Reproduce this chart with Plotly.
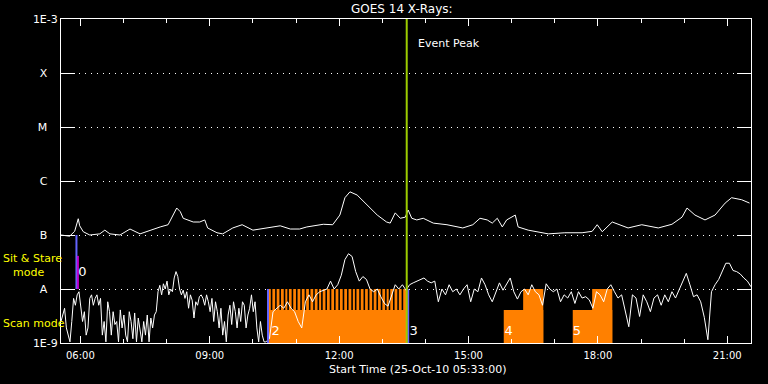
import pandas as pd
import plotly.graph_objects as go

DAY = "2010-10-25 "

# ---------------- data ----------------
# GOES 14 long channel (1-8 A), W/m^2
long_times = ["05:33", "05:45", "05:52", "05:57", "05:59", "06:04", "06:13", "06:27", "06:34", "06:41",
              "06:55", "07:09", "07:23", "07:37", "07:51", "08:02", "08:09", "08:14", "08:19", "08:23",
              "08:37", "08:46", "08:53", "08:57", "09:10", "09:18", "09:32", "09:45", "10:00", "10:20",
              "10:38", "10:52", "11:05", "11:15", "11:38", "11:51", "12:01", "12:08", "12:15", "12:25",
              "12:39", "12:53", "13:06", "13:11", "13:18", "13:25", "13:32", "13:36", "13:41", "13:48",
              "13:57", "14:11", "14:30", "14:52", "15:06", "15:16", "15:26", "15:33", "15:40", "15:47",
              "15:53", "16:05", "16:09", "16:23", "16:51", "17:14", "17:38", "17:52", "17:59", "18:06",
              "18:20", "18:33", "18:42", "19:01", "19:24", "19:43", "19:57", "20:04", "20:15", "20:29",
              "20:43", "20:57", "21:06", "21:20", "21:31"]
long_flux = [1.0e-7, 9.5e-8, 1.17e-7, 2.0e-7, 1.48e-7, 1.15e-7, 1.0e-7, 1.05e-7, 1.23e-7, 1.05e-7,
             1.0e-7, 1.29e-7, 1.05e-7, 1.23e-7, 1.41e-7, 1.55e-7, 2.34e-7, 3.16e-7, 2.7e-7, 2.04e-7,
             1.74e-7, 1.74e-7, 1.9e-7, 1.35e-7, 1.1e-7, 1.05e-7, 1.35e-7, 1.55e-7, 1.23e-7, 1.35e-7,
             1.48e-7, 1.29e-7, 1.29e-7, 1.41e-7, 1.58e-7, 1.55e-7, 2.34e-7, 4.9e-7, 6.3e-7, 5.5e-7,
             3.6e-7, 2.34e-7, 1.74e-7, 1.66e-7, 2.57e-7, 2.04e-7, 2.14e-7, 2.9e-7, 2.04e-7, 1.9e-7,
             2.04e-7, 1.66e-7, 1.55e-7, 1.35e-7, 1.55e-7, 2.04e-7, 1.9e-7, 1.66e-7, 2.04e-7, 1.41e-7,
             1.9e-7, 2.34e-7, 1.41e-7, 1.23e-7, 1.05e-7, 1.1e-7, 1.1e-7, 1.17e-7, 1.55e-7, 1.15e-7,
             1.74e-7, 1.48e-7, 1.35e-7, 1.55e-7, 1.35e-7, 1.58e-7, 2.14e-7, 3.16e-7, 2.34e-7, 1.9e-7,
             2.34e-7, 3.9e-7, 4.9e-7, 4.5e-7, 3.9e-7]

# GOES 14 short channel (0.5-4 A), W/m^2
# early part: every 2.5 minutes from 05:33 to 10:18
short_early_start = DAY + "05:33"
short_early_flux = [2.5e-9, 3.3e-9, 4.4e-9, 1.9e-9, 1.4e-9, 1.05e-9, 2.5e-9, 6.7e-9, 5.0e-9, 7.8e-9,
                    8.9e-9, 4.4e-9, 2.5e-9, 3.8e-9, 1.4e-9, 1.9e-9, 6.7e-9, 7.8e-9, 5.0e-9, 6.7e-9,
                    7.8e-9, 5.0e-9, 6.7e-9, 1.4e-9, 2.5e-9, 1.05e-9, 5.8e-9, 3.8e-9, 1.4e-9, 3.8e-9,
                    2.2e-9, 2.5e-9, 1.05e-9, 4.1e-9, 1.9e-9, 3.3e-9, 1.4e-9, 1.05e-9, 3.8e-9, 2.5e-9,
                    1.2e-9, 3.6e-9, 1.05e-9, 2.9e-9, 1.9e-9, 1.05e-9, 2.5e-9, 1.4e-9, 3.3e-9, 1.05e-9,
                    2.9e-9, 1.9e-9, 3.3e-9, 3.8e-9, 8.9e-9, 1.17e-8, 7.8e-9, 1.25e-8, 1.0e-8, 1.4e-8,
                    7.8e-9, 1.0e-8, 8.9e-9, 1.6e-8, 2.1e-8, 1.7e-8, 1.0e-8, 7.8e-9, 9.5e-9, 6.7e-9,
                    8.9e-9, 4.4e-9, 7.8e-9, 6.2e-9, 2.9e-9, 5.8e-9, 5.0e-9, 7.2e-9, 7.8e-9, 6.7e-9,
                    5.0e-9, 7.8e-9, 5.8e-9, 3.8e-9, 6.7e-9, 2.5e-9, 5.8e-9, 3.8e-9, 1.9e-9, 4.4e-9,
                    1.4e-9, 2.5e-9, 1.05e-9, 3.3e-9, 5.0e-9, 2.2e-9, 5.8e-9, 3.8e-9, 1.9e-9, 4.4e-9,
                    2.5e-9, 5.8e-9, 5.0e-9, 1.9e-9, 3.3e-9, 4.4e-9, 7.8e-9, 3.8e-9, 5.8e-9, 1.9e-9,
                    1.05e-9, 2.5e-9, 1.4e-9, 1.05e-9, 1.05e-9]
# late part: every 5 minutes from 10:23 to 21:33
short_late_start = DAY + "10:23"
short_late_flux = [1.2e-9, 3.8e-9,
                   4.4e-9, 5.0e-9, 4.4e-9, 5.8e-9, 4.4e-9, 3.8e-9, 2.5e-9, 1.9e-9, 5.8e-9, 7.8e-9,
                   5.8e-9, 7.8e-9, 8.9e-9, 9.5e-9, 1.0e-8, 1.4e-8, 1.0e-8, 1.2e-8, 1.8e-8, 3.5e-8,
                   4.5e-8, 4.0e-8, 2.1e-8, 1.4e-8, 1.7e-8, 1.5e-8, 1.0e-8, 8.9e-9, 1.0e-8, 7.2e-9,
                   5.4e-9, 4.8e-9, 7.8e-9, 1.2e-8, 1.0e-8, 1.2e-8, 9.5e-9, 1.2e-8, 1.3e-8, 1.4e-8,
                   1.5e-8, 1.6e-8, 1.4e-8, 1.3e-8, 1.4e-8, 5.8e-9, 1.0e-8, 7.8e-9, 1.2e-8, 8.9e-9,
                   1.0e-8, 7.8e-9, 1.0e-8, 1.2e-8, 5.8e-9, 1.0e-8, 8.9e-9, 1.6e-8, 1.2e-8, 7.8e-9,
                   5.8e-9, 8.9e-9, 1.3e-8, 9.5e-9, 1.2e-8, 1.6e-8, 8.9e-9, 6.5e-9, 8.9e-9, 1.0e-8,
                   7.8e-9, 1.2e-8, 8.9e-9, 7.8e-9, 5.0e-9, 1.25e-8, 1.0e-8, 8.9e-9, 1.0e-8, 5.8e-9,
                   7.8e-9, 6.8e-9, 8.9e-9, 5.4e-9, 8.9e-9, 6.8e-9, 7.2e-9, 6.3e-9, 4.4e-9, 8.9e-9,
                   7.8e-9, 5.8e-9, 1.0e-8, 1.2e-8, 8.9e-9, 6.8e-9, 7.8e-9, 3.8e-9, 2.0e-9, 7.8e-9,
                   6.8e-9, 3.1e-9, 7.8e-9, 5.8e-9, 3.8e-9, 6.8e-9, 7.8e-9, 5.0e-9, 7.8e-9, 5.8e-9,
                   8.9e-9, 6.8e-9, 9.5e-9, 1.4e-8, 1.95e-8, 1.2e-8, 7.2e-9, 7.8e-9, 5.8e-9, 3.0e-9,
                   1.15e-9, 8.9e-9, 1.2e-8, 1.5e-8, 2.2e-8, 3.0e-8, 3.0e-8, 2.2e-8, 2.1e-8, 1.9e-8,
                   1.6e-8, 1.4e-8, 1.1e-8]
short_times = list(pd.date_range(short_early_start, periods=len(short_early_flux), freq="150s")) + \
    list(pd.date_range(short_late_start, periods=len(short_late_flux), freq="5min"))
short_flux = short_early_flux + short_late_flux

# Scan-mode observation blocks (start, end)
scan_low_blocks = [("10:22", "13:34"), ("15:49", "16:44"), ("17:25", "18:20")]
scan_high_blocks = [("10:22", "13:34"), ("16:16", "16:44"), ("17:52", "18:20")]
scan_gap_centres = ["10:26", "10:32", "10:38", "10:44", "10:49", "10:55", "11:01", "11:07",
                    "11:13", "11:19", "11:25", "11:31", "11:36", "11:42", "11:48", "11:54",
                    "12:00", "12:06", "12:12", "12:18", "12:23", "12:29", "12:35", "12:41",
                    "12:47", "12:53", "12:59", "13:05", "13:10", "13:16", "13:22", "13:28"]
scan_floor, scan_low_top, scan_high_top = 1e-9, 4.1e-9, 1e-8

# Pointing change markers
blue_times = ["05:54:30", "10:21", "13:36"]
blue_lo = [1e-8, 1e-9, 1e-9]
blue_hi = [1e-7, 1e-8, 1e-8]
magenta_time = "05:56:30"
magenta_lo, magenta_hi = 1e-8, 4.1e-8
event_peak_time = "13:34"

point_labels = ["0", "2", "3", "4", "5"]
point_label_times = ["05:57", "10:26", "13:38", "15:50", "17:25"]
point_label_flux = [2.0e-8, 1.6e-9, 1.6e-9, 1.6e-9, 1.6e-9]

y_tickvals = [1e-9, 1e-8, 1e-7, 1e-6, 1e-5, 1e-4, 1e-3]
y_ticktext = ["1E-9", "A", "B", "C", "M", "X", "1E-3"]

x_start, x_end = DAY + "05:33", DAY + "21:33"

# ---------------- figure ----------------
FONT = "DejaVu Sans"
ORANGE = "#ff8000"
BLUE = "#6464ff"
MAGENTA = "#c000d0"
GREEN = "#9ccc00"


def ts(t):
    return pd.Timestamp(DAY + t)


def rects(blocks, lo, hi):
    xs, ys = [], []
    for s, e in blocks:
        xs += [ts(s), ts(e), ts(e), ts(s), ts(s), None]
        ys += [lo, lo, hi, hi, lo, None]
    return xs, ys


fig = go.Figure()

x, y = rects(scan_low_blocks, scan_floor, scan_low_top)
fig.add_trace(go.Scatter(x=x, y=y, fill="toself", fillcolor=ORANGE, mode="lines",
                         line=dict(width=0, color=ORANGE), hoverinfo="skip"))
x, y = rects(scan_high_blocks, scan_floor, scan_high_top)
fig.add_trace(go.Scatter(x=x, y=y, fill="toself", fillcolor=ORANGE, mode="lines",
                         line=dict(width=0, color=ORANGE), hoverinfo="skip"))
half = pd.Timedelta(seconds=66)
gx, gy = [], []
for c in scan_gap_centres:
    t = ts(c)
    gx += [t - half, t + half, t + half, t - half, t - half, None]
    gy += [scan_low_top, scan_low_top, scan_high_top, scan_high_top, scan_low_top, None]
fig.add_trace(go.Scatter(x=gx, y=gy, fill="toself", fillcolor="black", mode="lines",
                         line=dict(width=0, color="black"), hoverinfo="skip"))

fig.add_trace(go.Scatter(x=[ts(t) for t in long_times], y=long_flux, mode="lines",
                         line=dict(color="white", width=1)))
fig.add_trace(go.Scatter(x=short_times, y=short_flux, mode="lines",
                         line=dict(color="white", width=1)))

for t, lo, hi in zip(blue_times, blue_lo, blue_hi):
    fig.add_trace(go.Scatter(x=[ts(t), ts(t)], y=[lo, hi], mode="lines",
                             line=dict(color=BLUE, width=2)))
fig.add_trace(go.Scatter(x=[ts(magenta_time)] * 2, y=[magenta_lo, magenta_hi], mode="lines",
                         line=dict(color=MAGENTA, width=2)))
fig.add_trace(go.Scatter(x=[ts(event_peak_time)] * 2, y=[1e-9, 1e-3], mode="lines",
                         line=dict(color=GREEN, width=2)))

fig.add_trace(go.Scatter(x=[ts(t) for t in point_label_times], y=point_label_flux, mode="text",
                         text=point_labels, textposition="middle right",
                         textfont=dict(family=FONT, size=13, color="white")))

fig.add_annotation(x=ts(event_peak_time), xref="x", y=(343 - 43) / 324, yref="paper",
                   text="Event Peak", showarrow=False, xanchor="left", yanchor="middle", xshift=9,
                   font=dict(family=FONT, size=11, color="white"))
fig.add_annotation(x=(402 - 61) / 690, xref="paper", y=(343 - 9) / 324, yref="paper",
                   text="GOES 14 X-Rays:", showarrow=False, xanchor="center", yanchor="middle",
                   font=dict(family=FONT, size=12, color="white"))
fig.add_annotation(x=(418 - 61) / 690, xref="paper", y=(343 - 369) / 324, yref="paper",
                   text="Start Time (25-Oct-10 05:33:00)", showarrow=False, xanchor="center",
                   yanchor="middle", font=dict(family=FONT, size=11, color="white"))
fig.add_annotation(x=(1 - 61) / 690, xref="paper", y=(343 - 258) / 324, yref="paper",
                   text="Sit & Stare", showarrow=False, xanchor="left", yanchor="middle",
                   font=dict(family=FONT, size=11, color="yellow"))
fig.add_annotation(x=(11 - 61) / 690, xref="paper", y=(343 - 272) / 324, yref="paper",
                   text="mode", showarrow=False, xanchor="left", yanchor="middle",
                   font=dict(family=FONT, size=11, color="yellow"))
fig.add_annotation(x=(1 - 61) / 690, xref="paper", y=(343 - 323) / 324, yref="paper",
                   text="Scan mode", showarrow=False, xanchor="left", yanchor="middle",
                   font=dict(family=FONT, size=11, color="yellow"))

nb = "\u00a0"
fig.update_layout(
    width=768, height=384,
    margin=dict(l=61, r=17, t=19, b=41),
    paper_bgcolor="black", plot_bgcolor="black",
    showlegend=False,
    font=dict(family=FONT, size=11, color="white"),
    xaxis=dict(
        type="date", range=[x_start, x_end],
        showline=True, linecolor="white", linewidth=1, mirror="ticks",
        ticks="inside", ticklen=7, tickcolor="white", tickwidth=1,
        tick0=DAY + "06:00", dtick=3 * 3600 * 1000, tickformat="%H:%M",
        tickfont=dict(family=FONT, size=10, color="white"),
        ticklabelstandoff=3,
        showgrid=False, zeroline=False,
        minor=dict(ticks="inside", ticklen=4, tickcolor="white", dtick=3600 * 1000,
                   tick0=DAY + "06:00", showgrid=False),
    ),
    yaxis=dict(
        type="log", range=[-9, -3],
        showline=True, linecolor="white", linewidth=1, mirror="ticks",
        ticks="inside", ticklen=14, tickcolor="white", tickwidth=1,
        tickvals=y_tickvals,
        ticktext=[t if len(t) > 1 else t + nb * 3 for t in y_ticktext],
        tickfont=dict(family=FONT, size=11, color="white"),
        showgrid=True, gridcolor="white", gridwidth=1, griddash="1px,5px",
        zeroline=False,
    ),
)

fig.write_html("out.html", config={"displayModeBar": False},
               post_script="document.body.style.margin='0';document.body.style.background='black';")
